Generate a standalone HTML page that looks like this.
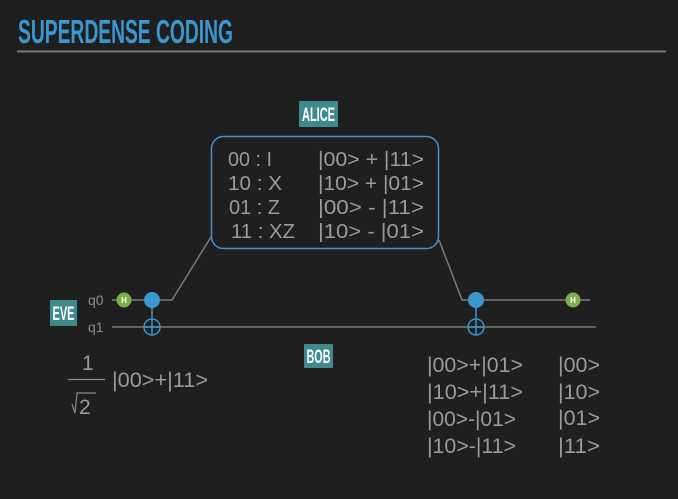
<!DOCTYPE html>
<html><head><meta charset="utf-8"><style>
html,body{margin:0;padding:0;background:#1f1f1f;}
svg{display:block}
text{font-family:"Liberation Sans",sans-serif;}
.lab{font-family:"Liberation Sans Narrow","Liberation Sans",sans-serif;font-weight:bold;fill:#fff;font-size:19px;}
.t{fill:#9a9a9a;font-size:21px;}
</style></head><body>
<svg width="678" height="499" viewBox="0 0 678 499">
<rect width="678" height="499" fill="#1f1f1f"/>
<text x="18" y="43" style="font-family:'Liberation Sans Narrow','Liberation Sans',sans-serif;font-weight:bold;font-size:33px;fill:#3a97cf" textLength="215" lengthAdjust="spacingAndGlyphs">SUPERDENSE CODING</text>
<line x1="17" y1="51.5" x2="666" y2="51.5" stroke="#7a7a7a" stroke-width="2"/>

<rect x="299" y="101" width="39" height="26" fill="#3e8a8c"/>
<text class="lab" x="318.5" y="121" text-anchor="middle" textLength="33" lengthAdjust="spacingAndGlyphs">ALICE</text>
<rect x="50" y="300" width="27" height="26" fill="#3e8a8c"/>
<text class="lab" x="63.5" y="320" text-anchor="middle" textLength="22" lengthAdjust="spacingAndGlyphs">EVE</text>
<rect x="304" y="344" width="29" height="24" fill="#3e8a8c"/>
<text class="lab" x="318.5" y="363" text-anchor="middle" textLength="24" lengthAdjust="spacingAndGlyphs">BOB</text>

<rect x="211.5" y="136.5" width="227" height="112" rx="12" fill="none" stroke="#3a97cf" stroke-width="1.5"/>
<g class="t" style="font-size:20px">
<text x="228" y="166" textLength="44" lengthAdjust="spacingAndGlyphs">00 : I</text><text x="318" y="166" textLength="106" lengthAdjust="spacingAndGlyphs">|00&gt; + |11&gt;</text>
<text x="228" y="190" textLength="54" lengthAdjust="spacingAndGlyphs">10 : X</text><text x="318" y="190" textLength="106" lengthAdjust="spacingAndGlyphs">|10&gt; + |01&gt;</text>
<text x="229" y="214" textLength="51" lengthAdjust="spacingAndGlyphs">01 : Z</text><text x="318" y="214" textLength="106" lengthAdjust="spacingAndGlyphs">|00&gt; -  |11&gt;</text>
<text x="231" y="238" textLength="64" lengthAdjust="spacingAndGlyphs">11 : XZ</text><text x="318" y="238" textLength="106" lengthAdjust="spacingAndGlyphs">|10&gt; -  |01&gt;</text>
</g>

<g stroke="#7a7a7a" stroke-width="1.5" fill="none">
<polyline points="112,300 172,300 211,237"/>
<polyline points="439,240 462,300 590,300"/>
<line x1="112" y1="327" x2="596" y2="327"/>
</g>
<text x="88" y="305" style="fill:#8a8a8a;font-size:14px">q0</text>
<text x="88" y="332" style="fill:#8a8a8a;font-size:14px">q1</text>

<g>
<circle cx="124" cy="300" r="7.5" fill="#7db04c"/>
<text x="124" y="303" text-anchor="middle" style="fill:#fff;font-size:8px;font-weight:bold">H</text>
<circle cx="573" cy="300" r="7.5" fill="#7db04c"/>
<text x="573" y="303" text-anchor="middle" style="fill:#fff;font-size:8px;font-weight:bold">H</text>
</g>
<g stroke="#3a97cf" stroke-width="1.5" fill="none">
<line x1="152" y1="300" x2="152" y2="335"/>
<circle cx="152" cy="327" r="8"/>
<line x1="144" y1="327" x2="160" y2="327"/>
<line x1="476" y1="300" x2="476" y2="335"/>
<circle cx="476" cy="327" r="8"/>
<line x1="468" y1="327" x2="484" y2="327"/>
</g>
<circle cx="152" cy="300" r="8" fill="#3a97cf"/>
<circle cx="476" cy="300" r="8" fill="#3a97cf"/>

<g class="t">
<text x="82" y="370">1</text>
<text x="112" y="387" textLength="96" lengthAdjust="spacingAndGlyphs">|00&gt;+|11&gt;</text>
<text x="79" y="414">2</text>
</g>
<line x1="68" y1="379.5" x2="105" y2="379.5" stroke="#8a8a8a" stroke-width="1.2"/>
<polyline points="72,404 75,413 77,393 96,393" fill="none" stroke="#8a8a8a" stroke-width="1.2"/>

<g class="t">
<text x="427" y="372" textLength="96" lengthAdjust="spacingAndGlyphs">|00&gt;+|01&gt;</text><text x="558" y="372" textLength="42" lengthAdjust="spacingAndGlyphs">|00&gt;</text>
<text x="427" y="399" textLength="96" lengthAdjust="spacingAndGlyphs">|10&gt;+|11&gt;</text><text x="558" y="399" textLength="42" lengthAdjust="spacingAndGlyphs">|10&gt;</text>
<text x="427" y="426" textLength="89" lengthAdjust="spacingAndGlyphs">|00&gt;-|01&gt;</text><text x="558" y="425" textLength="42" lengthAdjust="spacingAndGlyphs">|01&gt;</text>
<text x="427" y="453" textLength="89" lengthAdjust="spacingAndGlyphs">|10&gt;-|11&gt;</text><text x="558" y="453" textLength="42" lengthAdjust="spacingAndGlyphs">|11&gt;</text>
</g>
</svg>
</body></html>
